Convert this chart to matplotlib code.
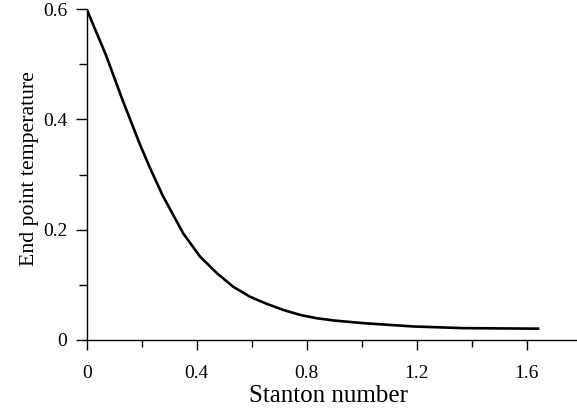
import numpy as np
import matplotlib
matplotlib.use('Agg')
import matplotlib.pyplot as plt
from matplotlib.ticker import MultipleLocator, FixedFormatter, FixedLocator

plt.rcParams['font.family'] = ['Liberation Serif', 'DejaVu Serif']

# End point temperature against Stanton number
stanton = [0.000, 0.069, 0.132, 0.194, 0.230, 0.276, 0.351, 0.412,
           0.473, 0.533, 0.594, 0.655, 0.715, 0.776, 0.836, 0.897, 1.006,
           1.188, 1.369, 1.646]
end_temp = [0.600, 0.518, 0.433, 0.354, 0.312, 0.262, 0.193, 0.151,
            0.121, 0.096, 0.078, 0.065, 0.054, 0.045, 0.039, 0.035, 0.030,
            0.024, 0.021, 0.020]

x_major = [0, 0.4, 0.8, 1.2, 1.6]
x_labels = ['0', '0.4', '0.8', '1.2', '1.6']
y_major = [0, 0.2, 0.4, 0.6]
y_labels = ['0', '0.2', '0.4', '0.6']

fig = plt.figure(figsize=(5.77, 4.12), dpi=100)
ax = fig.add_axes([0.1503, 0.1755, 0.8497, 0.8019])

ax.plot(stanton, end_temp, color='black', linewidth=1.9,
        solid_joinstyle='round', solid_capstyle='butt')

ax.set_xlim(0, 1.783)
ax.set_ylim(0, 0.6)

ax.spines['top'].set_visible(False)
ax.spines['right'].set_visible(False)
for s in ('left', 'bottom'):
    ax.spines[s].set_linewidth(1.0)
    ax.spines[s].set_clip_on(False)

ax.xaxis.set_major_locator(FixedLocator(x_major))
ax.xaxis.set_major_formatter(FixedFormatter(x_labels))
ax.xaxis.set_minor_locator(MultipleLocator(0.2))
ax.yaxis.set_major_locator(FixedLocator(y_major))
ax.yaxis.set_major_formatter(FixedFormatter(y_labels))
ax.yaxis.set_minor_locator(MultipleLocator(0.1))

ax.tick_params(axis='x', which='major', direction='out', length=7.5, width=1.0,
               pad=10.5, labelsize=14)
ax.tick_params(axis='x', which='minor', direction='out', length=5, width=1.0)
ax.tick_params(axis='y', which='major', direction='out', length=8, width=1.0,
               pad=6, labelsize=14)
ax.tick_params(axis='y', which='minor', direction='out', length=6, width=1.0)

ax.set_xlabel('Stanton number', fontsize=18)
ax.xaxis.set_label_coords(0.494, -0.137)
ax.set_ylabel('End point temperature', fontsize=15.7)
ax.yaxis.set_label_coords(-0.097, 0.517)

plt.savefig('out.png', dpi=100)
